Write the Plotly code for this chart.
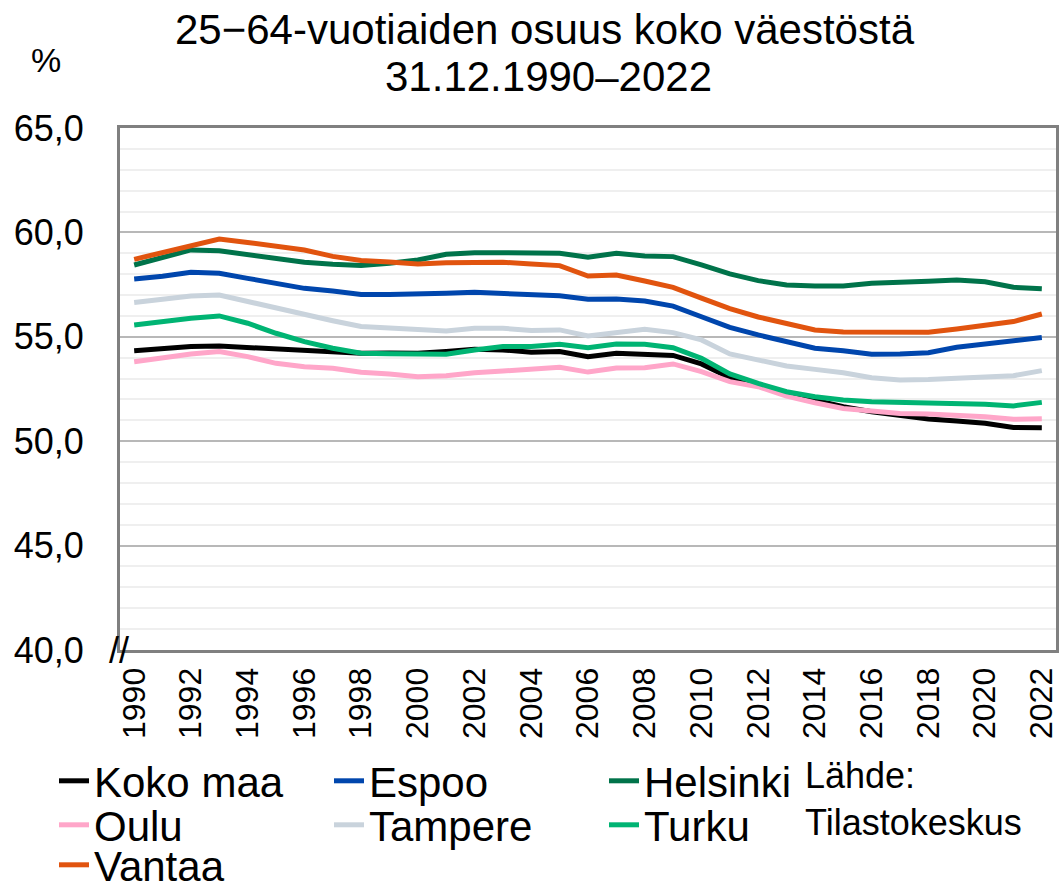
import plotly.graph_objects as go

years = [str(y) for y in range(1990, 2023)]
tick_years = [str(y) for y in range(1990, 2023, 2)]

koko_maa = [54.33, 54.43, 54.53, 54.56, 54.50, 54.42, 54.33, 54.27, 54.21, 54.22, 54.21,
            54.29, 54.40, 54.37, 54.26, 54.29, 54.05, 54.21, 54.18, 54.11, 53.70,
            53.05, 52.69, 52.29, 51.97, 51.65, 51.41, 51.21, 51.06, 50.97, 50.86, 50.66, 50.65]
espoo = [57.77, 57.90, 58.09, 58.04, 57.80, 57.59, 57.32, 57.19, 57.03, 57.03, 57.03,
         57.08, 57.13, 57.08, 57.03, 56.97, 56.80, 56.81, 56.71, 56.47, 55.96,
         55.45, 55.09, 54.77, 54.45, 54.33, 54.16, 54.18, 54.24, 54.50, 54.64, 54.77, 54.97]
helsinki = [58.44, 58.80, 59.16, 59.12, 58.92, 58.71, 58.57, 58.47, 58.42, 58.52, 58.68,
            58.95, 59.03, 59.03, 59.00, 59.00, 58.81, 59.00, 58.87, 58.84, 58.44,
            58.01, 57.69, 57.48, 57.43, 57.43, 57.56, 57.59, 57.66, 57.72, 57.64, 57.37, 57.30]
oulu = [53.81, 54.00, 54.18, 54.29, 54.05, 53.73, 53.57, 53.49, 53.30, 53.22, 53.09,
        53.14, 53.28, 53.36, 53.44, 53.54, 53.31, 53.51, 53.52, 53.70, 53.33,
        52.85, 52.61, 52.16, 51.84, 51.57, 51.45, 51.33, 51.30, 51.25, 51.17, 51.05, 51.08]
tampere = [56.64, 56.78, 56.95, 57.00, 56.68, 56.36, 56.04, 55.77, 55.49, 55.42, 55.33,
           55.28, 55.41, 55.41, 55.30, 55.33, 55.04, 55.22, 55.36, 55.20, 54.85,
           54.18, 53.86, 53.60, 53.44, 53.28, 53.04, 52.93, 52.96, 53.00, 53.04, 53.14, 53.38]
turku = [55.57, 55.76, 55.89, 56.00, 55.65, 55.17, 54.77, 54.45, 54.21, 54.19, 54.18,
         54.16, 54.37, 54.53, 54.53, 54.64, 54.48, 54.66, 54.64, 54.48, 53.97,
         53.22, 52.77, 52.37, 52.13, 51.97, 51.89, 51.86, 51.81, 51.81, 51.77, 51.69, 51.86]
vantaa = [58.71, 59.02, 59.32, 59.68, 59.52, 59.35, 59.16, 58.85, 58.65, 58.58, 58.49,
          58.55, 58.57, 58.57, 58.49, 58.41, 57.91, 57.96, 57.67, 57.37, 56.85,
          56.35, 55.95, 55.61, 55.33, 55.23, 55.22, 55.17, 55.22, 55.37, 55.57, 55.73, 56.09]

series = [
    ("Koko maa", koko_maa, "#000000", "legend"),
    ("Espoo", espoo, "#0046ad", "legend"),
    ("Helsinki", helsinki, "#00734a", "legend"),
    ("Oulu", oulu, "#ffa6c9", "legend2"),
    ("Tampere", tampere, "#c9d3dc", "legend2"),
    ("Turku", turku, "#00b473", "legend2"),
    ("Vantaa", vantaa, "#e1540f", "legend3"),
]

FONT = "Liberation Sans, Arial, sans-serif"

fig = go.Figure()
for name, vals, color, leg in series:
    fig.add_trace(go.Scatter(
        x=years, y=vals, name=name, mode="lines",
        line=dict(color=color, width=5),
        legend=leg,
    ))

W, H = 1059, 889
L, R, T, B = 120, 1056, 128, 650
pw, ph = R - L, B - T


def px(xp):
    return (xp - L) / pw


def py(yp):
    return (B - yp) / ph


leg_common = dict(
    orientation="h", xanchor="left", yanchor="middle",
    entrywidth=230, entrywidthmode="pixels",
    font=dict(family=FONT, size=42, color="#000000"),
    bgcolor="rgba(0,0,0,0)", borderwidth=0, tracegroupgap=0,
)

fig.update_layout(
    width=W, height=H,
    margin=dict(l=L, r=W - R, t=T, b=H - B, pad=0, autoexpand=False),
    plot_bgcolor="white", paper_bgcolor="white",
    font=dict(family=FONT, color="#000000"),
    separators=", ",
    showlegend=True,
    legend=dict(x=px(54), y=py(781), **leg_common),
    legend2=dict(x=px(54), y=py(825), **leg_common),
    legend3=dict(x=px(54), y=py(865), **leg_common),
    xaxis=dict(
        type="category", range=[-0.5, 32.5],
        tickmode="array", tickvals=tick_years, ticktext=tick_years,
        tickangle=-90, tickfont=dict(family=FONT, size=32, color="#000000"),
        showgrid=False, showline=True, linecolor="#808080", linewidth=3, mirror=True,
        ticks="", ticklabelstandoff=2, zeroline=False,
    ),
    yaxis=dict(
        range=[40, 65], dtick=5, tick0=40, tickformat=".1f",
        tickfont=dict(family=FONT, size=36, color="#000000"),
        showgrid=True, gridcolor="#b8b8b8", gridwidth=2,
        minor=dict(dtick=1, tick0=40, showgrid=True, gridcolor="#efefef", gridwidth=2),
        showline=True, linecolor="#808080", linewidth=3, mirror=True,
        ticks="", ticklabelstandoff=26, zeroline=False,
    ),
    annotations=[
        dict(text="25\u221264-vuotiaiden osuus koko väestöstä", xref="paper", yref="paper",
             x=px(545), y=py(30), xanchor="center", yanchor="middle", showarrow=False,
             font=dict(family=FONT, size=42, color="#000000")),
        dict(text="31.12.1990–2022", xref="paper", yref="paper",
             x=px(548), y=py(76), xanchor="center", yanchor="middle", showarrow=False,
             font=dict(family=FONT, size=42, color="#000000")),
        dict(text="%", xref="paper", yref="paper",
             x=px(46), y=py(60), xanchor="center", yanchor="middle", showarrow=False,
             font=dict(family=FONT, size=34, color="#000000")),
        dict(text="//", xref="paper", yref="paper",
             x=px(119), y=py(650), xanchor="center", yanchor="middle", showarrow=False,
             font=dict(family=FONT, size=36, color="#000000")),
        dict(text="Lähde:", xref="paper", yref="paper",
             x=px(803), y=py(775), xanchor="left", yanchor="middle", showarrow=False,
             font=dict(family=FONT, size=36, color="#000000")),
        dict(text="Tilastokeskus", xref="paper", yref="paper",
             x=px(803), y=py(822), xanchor="left", yanchor="middle", showarrow=False,
             font=dict(family=FONT, size=36, color="#000000")),
    ],
)

fig.write_html(
    "out.html",
    config={"displayModeBar": False},
    post_script="document.body.style.margin='0';document.body.style.overflow='hidden';",
)
